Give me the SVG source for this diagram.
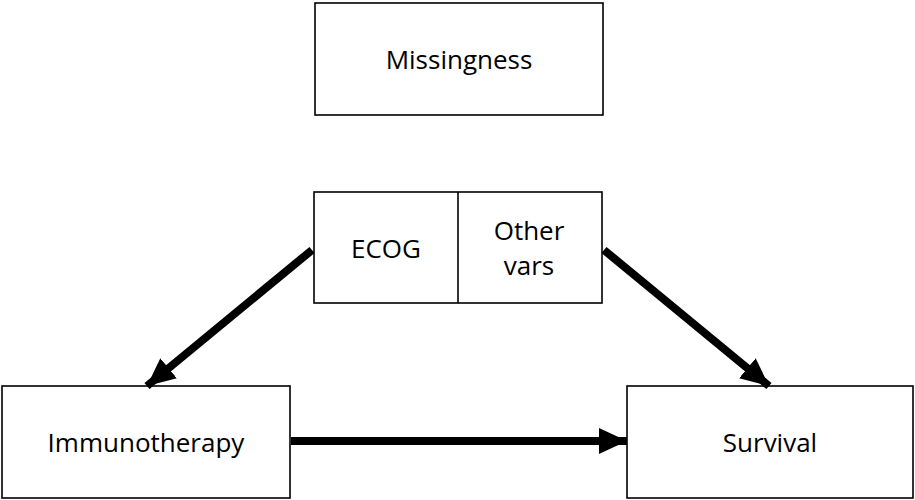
<svg xmlns="http://www.w3.org/2000/svg" width="915" height="500" viewBox="0 0 915 500">
  <style>
    .box { fill: #ffffff; stroke: #000000; stroke-width: 1.6; }
    .lbl { font-family: "Open Sans", "Noto Sans", "Liberation Sans", sans-serif; font-size: 26px; fill: #000000; text-anchor: middle; }
    .edge { stroke: #000000; stroke-width: 8; fill: none; }
  </style>
  <defs>
    <marker id="head" markerUnits="userSpaceOnUse" markerWidth="28" markerHeight="26" viewBox="0 0 28 26" refX="28" refY="13" orient="auto">
      <polygon points="0,0 28,13 0,26" fill="#000000"/>
    </marker>
  </defs>

  <g id="missingness">
    <rect class="box" x="315" y="3" width="288" height="112"/>
    <text class="lbl" x="459" y="69">Missingness</text>
  </g>

  <g id="confounders">
    <rect class="box" x="314" y="192" width="288" height="111"/>
    <line x1="458" y1="192" x2="458" y2="303" stroke="#000000" stroke-width="1.6"/>
    <text class="lbl" x="386" y="258">ECOG</text>
    <text class="lbl" x="529" y="240">Other</text>
    <text class="lbl" x="529" y="275">vars</text>
  </g>

  <g id="immunotherapy">
    <rect class="box" x="2" y="386" width="288" height="112"/>
    <text class="lbl" x="146" y="452">Immunotherapy</text>
  </g>

  <g id="survival">
    <rect class="box" x="627" y="386" width="286" height="112"/>
    <text class="lbl" x="770" y="452">Survival</text>
  </g>

  <g id="connectors">
    <line class="edge" x1="312" y1="250" x2="147" y2="386" marker-end="url(#head)"/>
    <line class="edge" x1="604" y1="250" x2="769" y2="386" marker-end="url(#head)"/>
    <line class="edge" x1="291" y1="441" x2="627" y2="441" marker-end="url(#head)"/>
  </g>
</svg>
